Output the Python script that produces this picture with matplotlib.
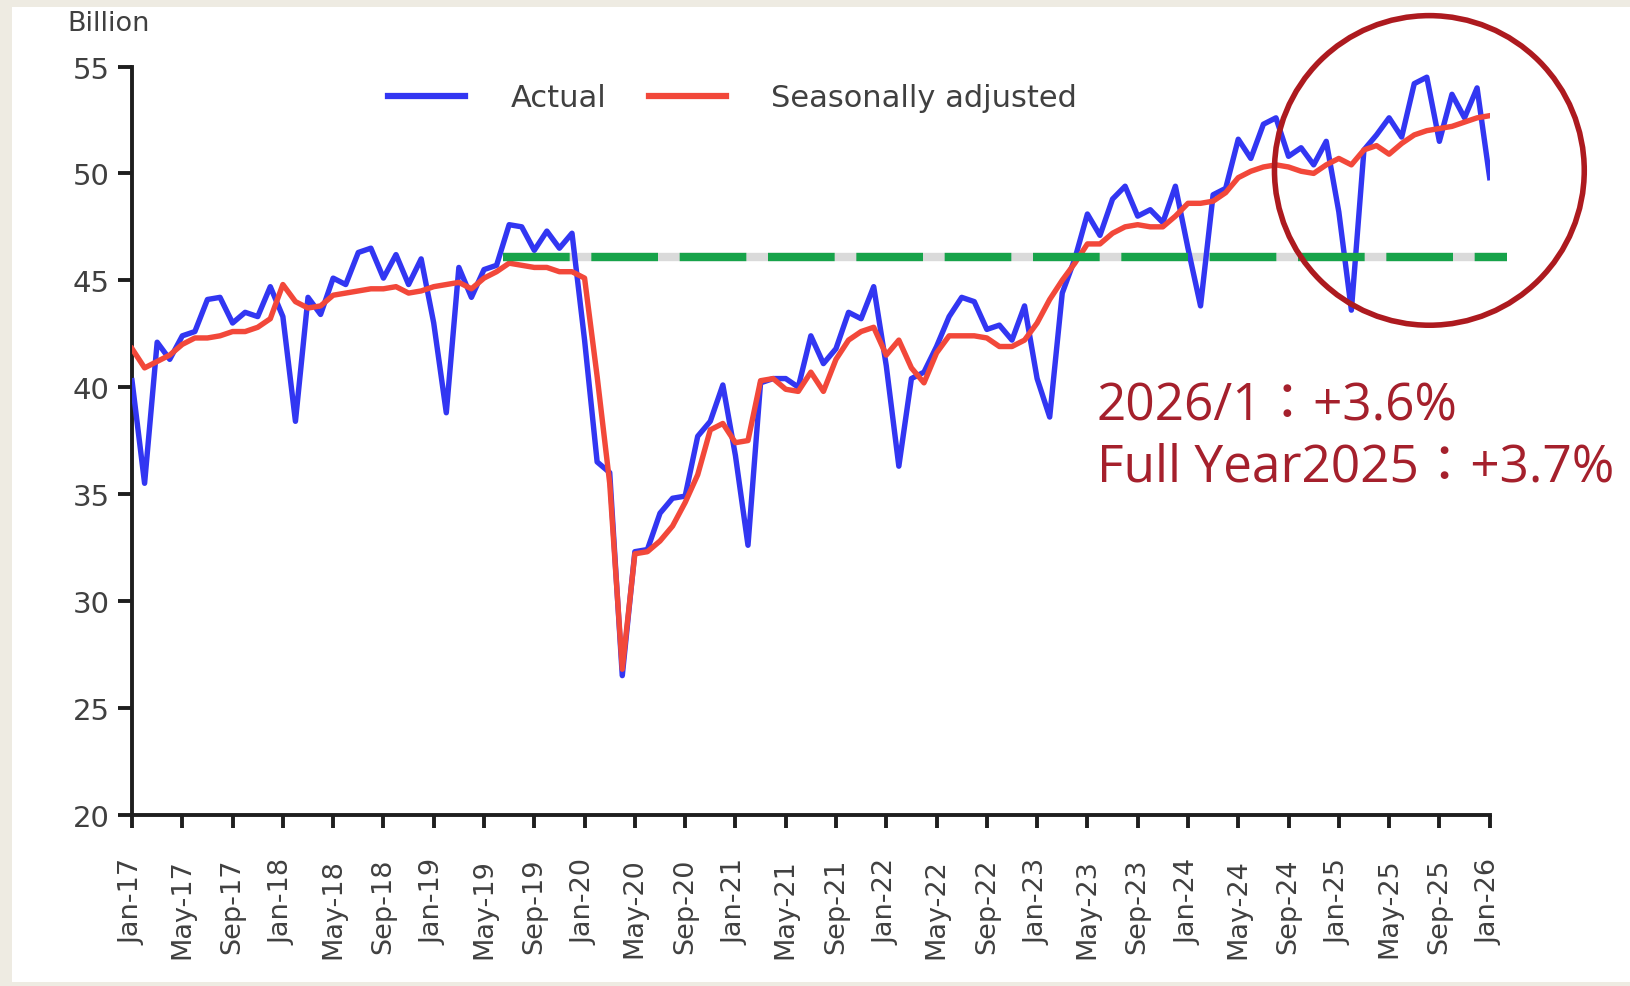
import matplotlib
matplotlib.use("Agg")
import matplotlib.pyplot as plt
from matplotlib.patches import Ellipse, Rectangle
import numpy as np

# ---------------- data ----------------
actual = [40.3, 35.5, 42.1, 41.3, 42.4, 42.6, 44.1, 44.2, 43.0, 43.5, 43.3, 44.7,
          43.3, 38.4, 44.2, 43.4, 45.1, 44.8, 46.3, 46.5, 45.1, 46.2, 44.8, 46.0,
          43.0, 38.8, 45.6, 44.2, 45.5, 45.7, 47.6, 47.5, 46.4, 47.3, 46.5, 47.2,
          42.2, 36.5, 36.0, 26.5, 32.3, 32.4, 34.1, 34.8, 34.9, 37.7, 38.4, 40.1,
          36.8, 32.6, 40.2, 40.4, 40.4, 40.0, 42.4, 41.1, 41.8, 43.5, 43.2, 44.7,
          41.0, 36.3, 40.4, 40.7, 41.9, 43.3, 44.2, 44.0, 42.7, 42.9, 42.2, 43.8,
          40.4, 38.6, 44.4, 46.0, 48.1, 47.1, 48.8, 49.4, 48.0, 48.3, 47.7, 49.4,
          46.5, 43.8, 49.0, 49.3, 51.6, 50.7, 52.3, 52.6, 50.8, 51.2, 50.4, 51.5,
          48.2, 43.6, 51.1, 51.8, 52.6, 51.7, 54.2, 54.5, 51.5, 53.7, 52.6, 54.0,
          49.8]
seasonal = [41.8, 40.9, 41.2, 41.5, 42.0, 42.3, 42.3, 42.4, 42.6, 42.6, 42.8, 43.2,
            44.8, 44.0, 43.7, 43.8, 44.3, 44.4, 44.5, 44.6, 44.6, 44.7, 44.4, 44.5,
            44.7, 44.8, 44.9, 44.6, 45.1, 45.4, 45.8, 45.7, 45.6, 45.6, 45.4, 45.4,
            45.1, 40.5, 35.5, 26.8, 32.2, 32.3, 32.8, 33.5, 34.6, 35.9, 38.0, 38.3,
            37.4, 37.5, 40.3, 40.4, 39.9, 39.8, 40.7, 39.8, 41.3, 42.2, 42.6, 42.8,
            41.5, 42.2, 40.9, 40.2, 41.6, 42.4, 42.4, 42.4, 42.3, 41.9, 41.9, 42.2,
            43.0, 44.1, 45.0, 45.8, 46.7, 46.7, 47.2, 47.5, 47.6, 47.5, 47.5, 48.0,
            48.6, 48.6, 48.7, 49.1, 49.8, 50.1, 50.3, 50.4, 50.3, 50.1, 50.0, 50.4,
            50.7, 50.4, 51.1, 51.3, 50.9, 51.4, 51.8, 52.0, 52.1, 52.2, 52.4, 52.6,
            52.7]
tick_labels = ["Jan-17", "May-17", "Sep-17", "Jan-18", "May-18", "Sep-18",
               "Jan-19", "May-19", "Sep-19", "Jan-20", "May-20", "Sep-20",
               "Jan-21", "May-21", "Sep-21", "Jan-22", "May-22", "Sep-22",
               "Jan-23", "May-23", "Sep-23", "Jan-24", "May-24", "Sep-24",
               "Jan-25", "May-25", "Sep-25", "Jan-26"]
y_ticks = [20, 25, 30, 35, 40, 45, 50, 55]
legend_labels = ["Actual", "Seasonally adjusted"]
reference_level = 46.1
reference_span = [29.5, 109.4]
annotation_lines = ["2026/1\uff1a+3.6%", "Full Year2025\uff1a+3.7%"]
unit_label = "Billion"

# ---------------- layout ----------------
W, H = 1568.0, 950.0
def fx(px):
    return px / W
def fy(py):
    return 1 - py / H

BLUE = "#3236f2"
RED = "#f2483a"
GREEN = "#17a34a"
TEXT = "#404040"
AXIS = "#1e1e1e"

plt.rcParams["font.family"] = ["DejaVu Sans"]

fig = plt.figure(figsize=(16.3, 9.87), dpi=100)
fig.patch.set_facecolor("#eeebe2")
fig.add_artist(Rectangle((fx(12), 4 / H), 1, 1 - 12 / H, transform=fig.transFigure,
                         facecolor="white", edgecolor="none", zorder=0))

ax = fig.add_axes([fx(127), fy(785), fx(1433) - fx(127), fy(65) - fy(785)])
ax.set_facecolor("none")

x = np.arange(len(actual))
# reference line: grey underlay + green dashes
ax.plot(reference_span, [reference_level, reference_level], color="#dadada",
        lw=6, solid_capstyle="butt", zorder=1, clip_on=False)
l1, = ax.plot(x, actual, color=BLUE, lw=3.9, zorder=3, label=legend_labels[0])
l2, = ax.plot(x, seasonal, color=RED, lw=3.9, zorder=4, label=legend_labels[1])
ax.plot(reference_span, [reference_level, reference_level], color=GREEN,
        lw=6, dashes=(8.0, 2.6), dash_capstyle="butt", zorder=5, clip_on=False)

ax.set_xlim(0, len(actual) - 1)
ax.set_ylim(y_ticks[0], y_ticks[-1])
ax.set_xticks(np.arange(0, len(actual), 4))
ax.set_xticklabels(tick_labels, rotation=90)
ax.set_yticks(y_ticks)
ax.set_yticklabels([str(v) for v in y_ticks])

for s in ["top", "right"]:
    ax.spines[s].set_visible(False)
for s in ["left", "bottom"]:
    ax.spines[s].set_linewidth(2.8)
    ax.spines[s].set_color(AXIS)
ax.tick_params(axis="both", direction="out", width=2.8, color=AXIS,
               labelcolor=TEXT)
ax.tick_params(axis="y", length=10, pad=6, labelsize=21)
ax.tick_params(axis="x", length=9, pad=22, labelsize=19.5)

fig.text(fx(65), fy(30), unit_label, fontsize=19.5, color=TEXT, ha="left",
         va="baseline")

leg = ax.legend(handles=[l1, l2], loc="center", ncol=2, frameon=False,
                bbox_to_anchor=(fx(705), fy(95)), bbox_transform=fig.transFigure,
                fontsize=22, handlelength=2.5, handletextpad=1.5,
                columnspacing=1.4, labelcolor=TEXT)
for h in leg.legend_handles:
    h.set_linewidth(4.5)

ann_family = ["Open Sans", "Noto Sans CJK TC", "DejaVu Sans"]
fig.text(fx(1055), fy(405), annotation_lines[0], fontsize=37, color="#a5202c",
         family=ann_family, ha="left", va="baseline")
fig.text(fx(1055), fy(463), annotation_lines[1], fontsize=37, color="#a5202c",
         family=ann_family, ha="left", va="baseline")

fig.add_artist(Ellipse((fx(1375), fy(165)), 2 * 149 / W, 2 * 149 / H,
                       transform=fig.transFigure, facecolor="none",
                       edgecolor="#ad1a1f", lw=4, zorder=10))

fig.savefig("out.png", dpi=100, facecolor=fig.get_facecolor())
